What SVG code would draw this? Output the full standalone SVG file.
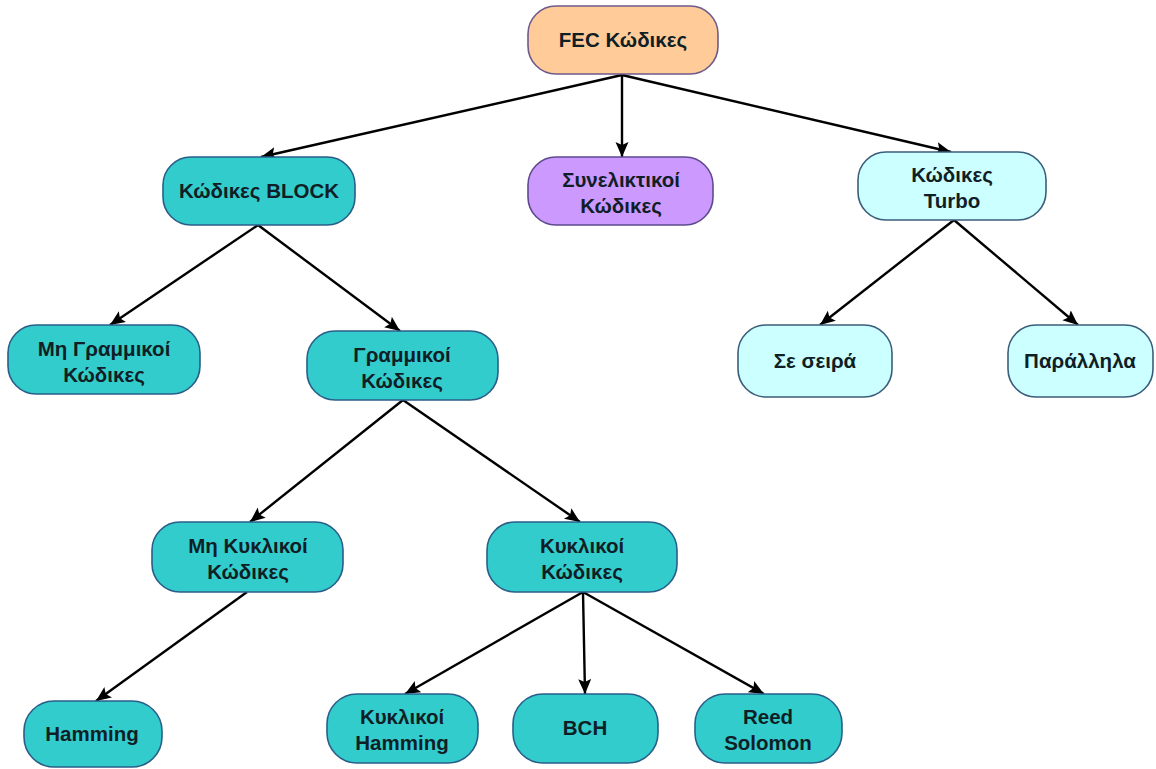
<svg xmlns="http://www.w3.org/2000/svg" width="1156" height="769" viewBox="0 0 1156 769">
  <defs>
    <marker id="arrow" markerUnits="userSpaceOnUse" markerWidth="17" markerHeight="14" refX="15" refY="6.5" orient="auto">
      <path d="M0,0 L15,6.5 L0,13 L3,6.5 z" fill="#000"/>
    </marker>
  </defs>
  <style>
    .box { stroke-width: 1.6; }
    .peach { fill: #FFCC99; stroke: #6E5A8C; }
    .teal { fill: #33CCCC; stroke: #2A5E88; }
    .violet { fill: #CC99FF; stroke: #5E4A8E; }
    .pale { fill: #CCFFFF; stroke: #3A5E7A; }
    .lbl { font-family: "Liberation Sans", Arial, "DejaVu Sans", sans-serif; font-weight: bold; font-size: 20.5px; fill: #101E26; text-anchor: middle; }
    .edge { stroke: #000; stroke-width: 2.4; fill: none; marker-end: url(#arrow); }
  </style>
  <rect width="1156" height="769" fill="#fff"/>

  <g id="connectors">
    <line class="edge" x1="622" y1="75" x2="261" y2="157"/>
    <line class="edge" x1="622" y1="75" x2="622" y2="157"/>
    <line class="edge" x1="622" y1="75" x2="951" y2="152"/>
    <line class="edge" x1="258" y1="225" x2="110" y2="325"/>
    <line class="edge" x1="258" y1="225" x2="400" y2="331"/>
    <line class="edge" x1="954" y1="220" x2="820" y2="325"/>
    <line class="edge" x1="954" y1="220" x2="1078" y2="325"/>
    <line class="edge" x1="403" y1="400" x2="250" y2="522"/>
    <line class="edge" x1="403" y1="400" x2="580" y2="522"/>
    <line class="edge" x1="247" y1="592" x2="96" y2="701"/>
    <line class="edge" x1="583" y1="592" x2="405" y2="694"/>
    <line class="edge" x1="583" y1="592" x2="585" y2="694"/>
    <line class="edge" x1="583" y1="592" x2="764" y2="694"/>
  </g>

  <g id="fec">
    <rect class="box peach" x="528" y="6" width="190" height="68" rx="28"/>
    <text class="lbl" x="623" y="47">FEC Κώδικες</text>
  </g>
  <g id="block">
    <rect class="box teal" x="163" y="157" width="192" height="68" rx="28"/>
    <text class="lbl" x="259" y="198">Κώδικες BLOCK</text>
  </g>
  <g id="convolutional">
    <rect class="box violet" x="528" y="157" width="185" height="68" rx="28"/>
    <text class="lbl" x="621" y="187">Συνελικτικοί</text>
    <text class="lbl" x="621" y="213">Κώδικες</text>
  </g>
  <g id="turbo">
    <rect class="box pale" x="858" y="152" width="188" height="68" rx="28"/>
    <text class="lbl" x="952" y="182">Κώδικες</text>
    <text class="lbl" x="952" y="208">Turbo</text>
  </g>
  <g id="nonlinear">
    <rect class="box teal" x="8" y="325" width="192" height="69" rx="28"/>
    <text class="lbl" x="104" y="356">Μη Γραμμικοί</text>
    <text class="lbl" x="104" y="382">Κώδικες</text>
  </g>
  <g id="linear">
    <rect class="box teal" x="307" y="331" width="191" height="69" rx="28"/>
    <text class="lbl" x="402" y="362">Γραμμικοί</text>
    <text class="lbl" x="402" y="388">Κώδικες</text>
  </g>
  <g id="serial">
    <rect class="box pale" x="738" y="325" width="154" height="72" rx="28"/>
    <text class="lbl" x="815" y="368">Σε σειρά</text>
  </g>
  <g id="parallel">
    <rect class="box pale" x="1008" y="325" width="145" height="72" rx="28"/>
    <text class="lbl" x="1080" y="368">Παράλληλα</text>
  </g>
  <g id="noncyclic">
    <rect class="box teal" x="152" y="522" width="191" height="70" rx="28"/>
    <text class="lbl" x="248" y="553">Μη Κυκλικοί</text>
    <text class="lbl" x="248" y="579">Κώδικες</text>
  </g>
  <g id="cyclic">
    <rect class="box teal" x="487" y="522" width="190" height="70" rx="28"/>
    <text class="lbl" x="582" y="553">Κυκλικοί</text>
    <text class="lbl" x="582" y="579">Κώδικες</text>
  </g>
  <g id="hamming">
    <rect class="box teal" x="24" y="701" width="138" height="66" rx="30"/>
    <text class="lbl" x="92" y="741">Hamming</text>
  </g>
  <g id="cyclic-hamming">
    <rect class="box teal" x="327" y="694" width="151" height="69" rx="30"/>
    <text class="lbl" x="402" y="724">Κυκλικοί</text>
    <text class="lbl" x="402" y="750">Hamming</text>
  </g>
  <g id="bch">
    <rect class="box teal" x="513" y="694" width="145" height="69" rx="30"/>
    <text class="lbl" x="585" y="735">BCH</text>
  </g>
  <g id="reed-solomon">
    <rect class="box teal" x="695" y="694" width="147" height="69" rx="30"/>
    <text class="lbl" x="768" y="724">Reed</text>
    <text class="lbl" x="768" y="750">Solomon</text>
  </g>
</svg>
